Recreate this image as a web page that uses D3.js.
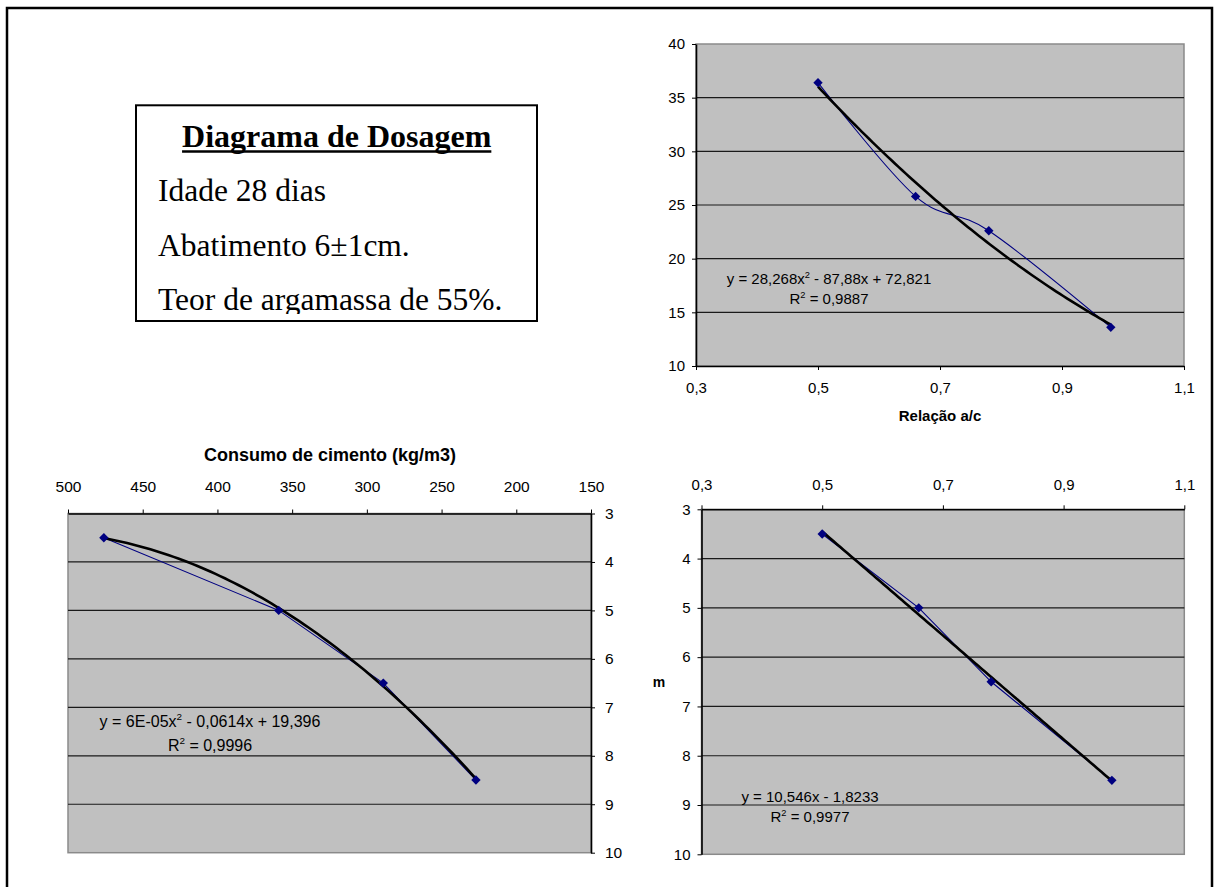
<!DOCTYPE html>
<html>
<head>
<meta charset="utf-8">
<script src="https://cdn.jsdelivr.net/npm/d3@7"></script>
<style>
  body { margin: 0; background: #fff; }
  svg { display: block; }
  text { font-family: "Liberation Sans", Arial, sans-serif; fill: #000; }
  .serif { font-family: "Liberation Serif", "Times New Roman", serif; }
</style>
</head>
<body>
<svg id="chart" width="1220" height="887"></svg>
<script>
var acRatio = [0.50, 0.66, 0.78, 0.98];      // relação a/c
var fc28 = [36.4, 25.8, 22.6, 13.6];         // resistência aos 28 dias
var cementUse = [476, 359, 289, 227];        // consumo de cimento (kg/m3)
var mRatio = [3.5, 5.0, 6.5, 8.5];           // m

var acTicks = [0.3, 0.5, 0.7, 0.9, 1.1];
var fcTicks = [10, 15, 20, 25, 30, 35, 40];
var cementTicks = [500, 450, 400, 350, 300, 250, 200, 150];
var mTicks = [3, 4, 5, 6, 7, 8, 9, 10];

var infoTitle = "Diagrama de Dosagem";
var infoLines = ["Idade 28 dias", "Abatimento 6±1cm.", "Teor de argamassa de 55%."];

var eqFc = [["y = 28,268x", "2", " - 87,88x + 72,821"], ["R", "2", " = 0,9887"]];
var eqCement = [["y = 6E-05x", "2", " - 0,0614x + 19,396"], ["R", "2", " = 0,9996"]];
var eqM = [["y = 10,546x - 1,8233", "", ""], ["R", "2", " = 0,9977"]];

var svg = d3.select("#chart");
var locale = d3.formatLocale({ decimal: ",", thousands: ".", grouping: [3], currency: ["R$", ""] });
var fmt1 = locale.format(".1f");

// ajuste por mínimos quadrados (linha de tendência)
function polyfit(xs, ys, deg) {
  var n = deg + 1, A = [], i, j, k;
  for (i = 0; i < n; i++) {
    A[i] = [];
    for (j = 0; j < n; j++) A[i][j] = d3.sum(xs, function (x) { return Math.pow(x, i + j); });
    A[i][n] = d3.sum(xs, function (x, idx) { return ys[idx] * Math.pow(x, i); });
  }
  for (i = 0; i < n; i++) {
    var p = i;
    for (k = i + 1; k < n; k++) if (Math.abs(A[k][i]) > Math.abs(A[p][i])) p = k;
    var t = A[i]; A[i] = A[p]; A[p] = t;
    for (k = i + 1; k < n; k++) {
      var f = A[k][i] / A[i][i];
      for (j = i; j <= n; j++) A[k][j] -= f * A[i][j];
    }
  }
  var c = [];
  for (i = n - 1; i >= 0; i--) {
    var s = A[i][n];
    for (j = i + 1; j < n; j++) s -= A[i][j] * c[j];
    c[i] = s / A[i][i];
  }
  return c;
}

function panel(cfg) {
  var x = cfg.x, y = cfg.y;
  var xr = x.range().slice().sort(d3.ascending), yr = y.range().slice().sort(d3.ascending);
  var g = svg.append("g");

  g.append("rect")
    .attr("x", xr[0]).attr("y", yr[0])
    .attr("width", xr[1] - xr[0]).attr("height", yr[1] - yr[0])
    .attr("fill", "#c0c0c0").attr("stroke", "#8a8a8a").attr("stroke-width", 1.5);

  g.selectAll(".grid")
    .data(cfg.yTicks.filter(function (d, i) { return i > 0 && i < cfg.yTicks.length - 1; }))
    .enter().append("line")
    .attr("x1", xr[0]).attr("x2", xr[1])
    .attr("y1", function (d) { return y(d); }).attr("y2", function (d) { return y(d); })
    .attr("stroke", "#1a1a1a").attr("stroke-width", 1.2);

  var xa = g.append("g").attr("transform", "translate(0," + cfg.xAxisAt + ")")
    .call(cfg.xAxis(x).tickValues(cfg.xTicks).tickFormat(cfg.xFormat).tickSize(4).tickSizeOuter(0).tickPadding(cfg.xPad));
  var ya = g.append("g").attr("transform", "translate(" + cfg.yAxisAt + ",0)")
    .call(cfg.yAxis(y).tickValues(cfg.yTicks).tickFormat(d3.format("d")).tickSize(4).tickSizeOuter(0).tickPadding(cfg.yPad));
  [xa, ya].forEach(function (a) {
    a.attr("font-size", cfg.tickSize).attr("font-family", "Liberation Sans, Arial, sans-serif");
    a.select(".domain").attr("stroke", "#000").attr("stroke-width", 1.6);
    a.selectAll(".tick line").attr("stroke", "#000");
  });

  var pts = cfg.xs.map(function (d, i) { return [d, cfg.ys[i]]; });

  // série
  g.append("path")
    .datum(pts)
    .attr("fill", "none").attr("stroke", "#000080").attr("stroke-width", 1.1)
    .attr("d", d3.line()
      .x(function (d) { return x(d[0]); })
      .y(function (d) { return y(d[1]); })
      .curve(cfg.smooth ? d3.curveCatmullRom.alpha(0) : d3.curveLinear));

  // linha de tendência
  var c = polyfit(cfg.xs, cfg.ys, cfg.deg);
  var ext = d3.extent(cfg.xs);
  var trend = d3.range(0, 81).map(function (i) {
    var xv = ext[0] + (ext[1] - ext[0]) * i / 80;
    var yv = 0;
    for (var k = c.length - 1; k >= 0; k--) yv = yv * xv + c[k];
    return [xv, yv];
  });
  g.append("path")
    .datum(trend)
    .attr("fill", "none").attr("stroke", "#000").attr("stroke-width", 2.6)
    .attr("d", d3.line().x(function (d) { return x(d[0]); }).y(function (d) { return y(d[1]); }));

  g.selectAll(".pt")
    .data(pts)
    .enter().append("path")
    .attr("transform", function (d) { return "translate(" + x(d[0]) + "," + y(d[1]) + ") rotate(45)"; })
    .attr("d", d3.symbol().type(d3.symbolSquare).size(44))
    .attr("fill", "#000080");

  // equação
  cfg.eq.forEach(function (parts, i) {
    var t = g.append("text")
      .attr("x", cfg.eqX).attr("y", cfg.eqY[i])
      .attr("text-anchor", "middle").attr("font-size", cfg.eqSize);
    t.append("tspan").text(parts[0]);
    if (parts[1]) {
      t.append("tspan").attr("font-size", cfg.eqSize * 0.62).attr("dy", -cfg.eqSize * 0.42).text(parts[1]);
      t.append("tspan").attr("dy", cfg.eqSize * 0.42).text(parts[2]);
    }
  });

  cfg.titles.forEach(function (tt) {
    g.append("text")
      .attr("x", tt.x).attr("y", tt.y)
      .attr("text-anchor", "middle")
      .attr("font-weight", "bold").attr("font-size", tt.size)
      .text(tt.text);
  });
}

// moldura externa
svg.append("rect")
  .attr("x", 7).attr("y", 8).attr("width", 1205).attr("height", 920)
  .attr("fill", "none").attr("stroke", "#000").attr("stroke-width", 2.5);

// resistência x a/c
panel({
  x: d3.scaleLinear().domain([0.3, 1.1]).range([696, 1184]),
  y: d3.scaleLinear().domain([10, 40]).range([366, 44]),
  xTicks: acTicks, yTicks: fcTicks, xFormat: fmt1,
  xAxis: d3.axisBottom, yAxis: d3.axisLeft, xAxisAt: 366, yAxisAt: 696,
  xPad: 12, yPad: 7, tickSize: 15,
  xs: acRatio, ys: fc28, deg: 2, smooth: true,
  eq: eqFc, eqX: 829, eqY: [284, 304], eqSize: 15,
  titles: [{ text: "Relação a/c", x: 940, y: 421, size: 15 }]
});

// m x consumo de cimento
panel({
  x: d3.scaleLinear().domain([500, 150]).range([68, 591]),
  y: d3.scaleLinear().domain([3, 10]).range([513.5, 852.7]),
  xTicks: cementTicks, yTicks: mTicks, xFormat: d3.format("d"),
  xAxis: d3.axisTop, yAxis: d3.axisRight, xAxisAt: 513.5, yAxisAt: 591,
  xPad: 18, yPad: 10, tickSize: 15.5,
  xs: cementUse, ys: mRatio, deg: 2, smooth: false,
  eq: eqCement, eqX: 210, eqY: [727, 751], eqSize: 16,
  titles: [{ text: "Consumo de cimento (kg/m3)", x: 330, y: 461, size: 18 }]
});

// m x a/c
panel({
  x: d3.scaleLinear().domain([0.3, 1.1]).range([701.5, 1184.3]),
  y: d3.scaleLinear().domain([3, 10]).range([509.3, 854.3]),
  xTicks: acTicks, yTicks: mTicks, xFormat: fmt1,
  xAxis: d3.axisTop, yAxis: d3.axisLeft, xAxisAt: 509.3, yAxisAt: 701.5,
  xPad: 15, yPad: 7, tickSize: 15,
  xs: acRatio, ys: mRatio, deg: 1, smooth: false,
  eq: eqM, eqX: 810, eqY: [802, 822], eqSize: 15,
  titles: [{ text: "m", x: 659, y: 687, size: 14 }]
});

// quadro de informações
var box = svg.append("g");
box.append("clipPath").attr("id", "boxclip")
  .append("rect").attr("x", 136).attr("y", 105).attr("width", 401).attr("height", 209);
box.append("rect")
  .attr("x", 136).attr("y", 105.3).attr("width", 401).attr("height", 215.7)
  .attr("fill", "#fff").attr("stroke", "#000").attr("stroke-width", 2);
var title = box.append("text").attr("class", "serif")
  .attr("x", 336.7).attr("y", 146.7).attr("text-anchor", "middle")
  .attr("font-weight", "bold").attr("font-size", 32)
  .text(infoTitle);
var tw = title.node().getComputedTextLength();
box.append("line")
  .attr("x1", 336.7 - tw / 2).attr("x2", 336.7 + tw / 2)
  .attr("y1", 151.5).attr("y2", 151.5)
  .attr("stroke", "#000").attr("stroke-width", 2.5);
var body = box.append("g").attr("clip-path", "url(#boxclip)");
body.selectAll("text")
  .data(infoLines)
  .enter().append("text").attr("class", "serif")
  .attr("x", 158).attr("y", function (d, i) { return 201 + i * 54.6; })
  .attr("font-size", 31.5)
  .text(function (d) { return d; });
</script>
</body>
</html>
